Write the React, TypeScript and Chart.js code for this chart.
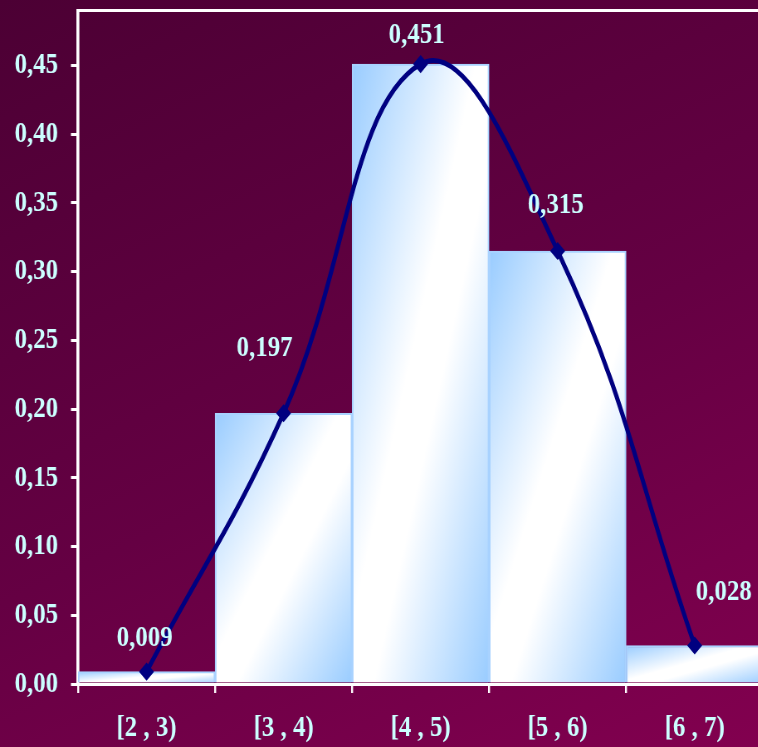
import React, { useEffect, useRef } from "react";
import { Chart, registerables } from "chart.js";

Chart.register(...registerables);

// ---- data ----
const categories = ["[2 , 3)", "[3 , 4)", "[4 , 5)", "[5 , 6)", "[6 , 7)"];
const frequencies = [0.009, 0.197, 0.451, 0.315, 0.028];
const yMin = 0;
const yMax = 0.49;
const yStep = 0.05;

// ---- layout / style ----
const SX = 0.83; // horizontal squeeze of the original picture
const CW = 930;
const CH = 747;
const FONT = "'Liberation Serif', 'Times New Roman', serif";
const TEXT = "#ccffff";
const BAR_BLUE = "#99ccff";

const fmt = (v: number, d: number) => v.toFixed(d).replace(".", ",");

const labelPlugin = {
  id: "valueLabels",
  afterDatasetsDraw(chart: any) {
    const meta = chart.getDatasetMeta(0);
    const offs = [
      [-2, -33],
      [-19, -65],
      [-4, -29],
      [-2, -46],
      [29, -53],
    ];
    const ctx = chart.ctx;
    ctx.save();
    ctx.font = `bold 30px ${FONT}`;
    ctx.fillStyle = TEXT;
    ctx.textAlign = "center";
    ctx.textBaseline = "middle";
    meta.data.forEach((pt: any, i: number) => {
      const o = offs[i] || [0, -30];
      ctx.fillText(fmt(frequencies[i], 3), pt.x + o[0] / SX, pt.y + o[1]);
    });
    ctx.restore();
  },
};

const framePlugin = {
  id: "plotFrame",
  beforeDatasetsDraw(chart: any) {
    const { ctx, chartArea } = chart;
    ctx.save();
    ctx.strokeStyle = "#ffffff";
    ctx.lineWidth = 3;
    ctx.beginPath();
    ctx.moveTo(chartArea.left, chartArea.top);
    ctx.lineTo(chartArea.right, chartArea.top);
    ctx.stroke();
    ctx.lineWidth = 3.6;
    ctx.beginPath();
    ctx.moveTo(chartArea.right, chartArea.top);
    ctx.lineTo(chartArea.right, chartArea.bottom);
    ctx.stroke();
    ctx.restore();
  },
};

function barFill(c: any) {
  const chart = c.chart;
  const { chartArea, scales } = chart;
  if (!chartArea || c.type !== "data" || !scales.x || !scales.y) return BAR_BLUE;
  const i = c.dataIndex;
  const half = scales.x.width / categories.length / 2;
  const cx = scales.x.getPixelForValue(i);
  const L = cx - half;
  const w = half * 2;
  const T = scales.y.getPixelForValue(c.raw);
  const B = scales.y.getPixelForValue(0);
  const h = Math.max(B - T, 1);
  const k = (2 * w * h) / (w * w + h * h);
  const g = chart.ctx.createLinearGradient(L, T, L + k * h, T + k * w);
  g.addColorStop(0, BAR_BLUE);
  g.addColorStop(0.45, "#ffffff");
  g.addColorStop(0.58, "#ffffff");
  g.addColorStop(1, BAR_BLUE);
  return g;
}

export default function App() {
  const ref = useRef<HTMLCanvasElement | null>(null);

  useEffect(() => {
    if (!ref.current) return;
    const chart = new Chart(ref.current, {
      type: "bar",
      data: {
        labels: categories,
        datasets: [
          {
            type: "line",
            label: "curve",
            data: frequencies,
            borderColor: "#000080",
            backgroundColor: "#000080",
            borderWidth: 5,
            tension: 0.42,
            pointStyle: "rectRot",
            pointRadius: 5.5,
            pointBackgroundColor: "#000080",
            pointBorderColor: "#000080",
            order: 0,
          } as any,
          {
            type: "bar",
            label: "frequency",
            data: frequencies,
            backgroundColor: barFill as any,
            borderColor: "#a8d2ff",
            borderWidth: 2,
            categoryPercentage: 1,
            barPercentage: 1,
            order: 1,
          } as any,
        ],
      },
      options: {
        animation: false,
        responsive: false,
        devicePixelRatio: 1,
        layout: { padding: { top: 7, right: 7.5, left: 0, bottom: 0 } },
        plugins: {
          legend: { display: false },
          tooltip: { enabled: false },
        },
        scales: {
          x: {
            type: "category",
            offset: true,
            grid: {
              offset: true,
              drawOnChartArea: false,
              drawTicks: true,
              tickLength: 9,
              color: "#ffffff",
              lineWidth: 2.4,
            },
            border: { display: true, color: "#ffffff", width: 3 },
            ticks: {
              color: TEXT,
              font: { family: FONT, size: 30, weight: "bold" },
              padding: 17,
              maxRotation: 0,
              autoSkip: false,
            },
            afterFit: (s: any) => {
              s.height = 63;
              s.paddingLeft = 0;
              s.paddingRight = 0;
            },
          },
          y: {
            min: yMin,
            max: yMax,
            grid: {
              drawOnChartArea: false,
              drawTicks: true,
              tickLength: 8.5,
              color: "#ffffff",
              lineWidth: 3,
            },
            border: { display: true, color: "#ffffff", width: 3.6 },
            ticks: {
              stepSize: yStep,
              color: TEXT,
              font: { family: FONT, size: 30, weight: "bold" },
              padding: 15.6,
              callback: (v: any) => fmt(Number(v), 2),
            },
            afterBuildTicks: (s: any) => {
              s.ticks = s.ticks.filter(
                (t: any) => Math.abs(t.value / yStep - Math.round(t.value / yStep)) < 1e-6
              );
            },
            afterFit: (s: any) => {
              s.width = 94;
              s.paddingTop = 0;
              s.paddingBottom = 0;
            },
          },
        },
      } as any,
      plugins: [framePlugin, labelPlugin],
    });
    return () => chart.destroy();
  }, []);

  return (
    <div
      style={{
        position: "fixed",
        left: 0,
        top: 0,
        width: 758,
        height: CH,
        overflow: "hidden",
        background: "linear-gradient(155deg, #4c0034 0%, #650043 55%, #82004f 100%)",
      }}
    >
      <div
        style={{
          width: CW,
          height: CH,
          transform: `scaleX(${SX})`,
          transformOrigin: "0 0",
        }}
      >
        <canvas ref={ref} width={CW} height={CH} style={{ display: "block" }} />
      </div>
    </div>
  );
}
